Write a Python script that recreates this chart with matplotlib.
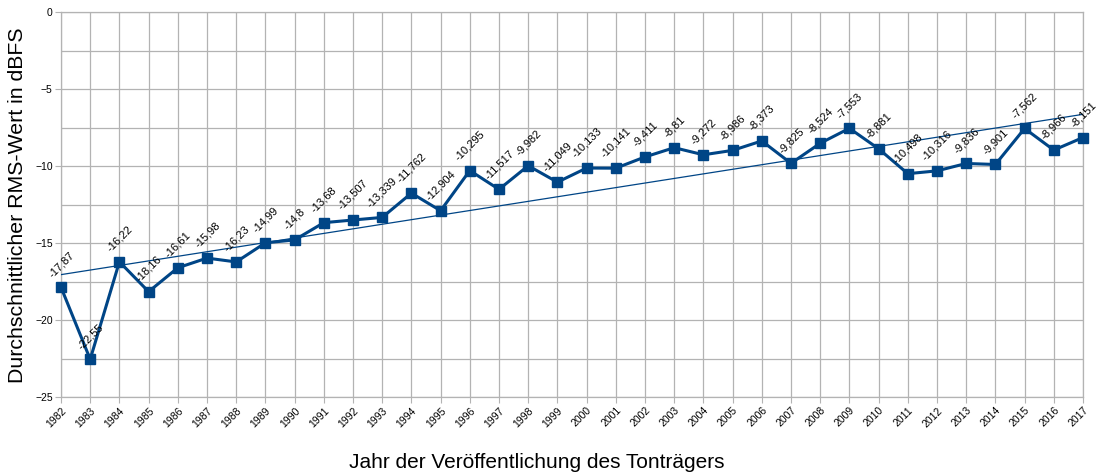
import numpy as np
import matplotlib
matplotlib.use("Agg")
import matplotlib.pyplot as plt
from matplotlib.ticker import MultipleLocator

plt.rcParams['font.family'] = ['Liberation Sans', 'DejaVu Sans']

years = list(range(1982, 2018))
rms = [-17.87, -22.55, -16.22, -18.16, -16.61, -15.98, -16.23, -14.99, -14.8, -13.68,
       -13.507, -13.339, -11.762, -12.904, -10.295, -11.517, -9.982, -11.049, -10.133, -10.141,
       -9.411, -8.81, -9.272, -8.986, -8.373, -9.825, -8.524, -7.553, -8.881, -10.498,
       -10.316, -9.836, -9.901, -7.562, -8.966, -8.151]
labels = ["-17,87", "-22,55", "-16,22", "-18,16", "-16,61", "-15,98", "-16,23", "-14,99", "-14,8", "-13,68",
          "-13,507", "-13,339", "-11,762", "-12,904", "-10,295", "-11,517", "-9,982", "-11,049", "-10,133", "-10,141",
          "-9,411", "-8,81", "-9,272", "-8,986", "-8,373", "-9,825", "-8,524", "-7,553", "-8,881", "-10,498",
          "-10,316", "-9,836", "-9,901", "-7,562", "-8,966", "-8,151"]

color = '#004586'
fig = plt.figure(figsize=(11.01, 4.75), dpi=100)
ax = fig.add_axes([61/1101, 1-397/475, (1083-61)/1101, (397-12)/475])

x = np.array(years, dtype=float)
y = np.array(rms)
k, d = np.polyfit(x, y, 1)
ax.plot([x[0], x[-1]], [k*x[0]+d, k*x[-1]+d], color=color, lw=0.9, zorder=3)
ax.plot(x, y, color=color, lw=2.2, marker='s', markersize=7, zorder=4, clip_on=False)

for xi, yi, lab in zip(x, y, labels):
    ax.annotate(lab, (xi, yi), xytext=(0, 6), textcoords='offset points',
                rotation=45, ha='center', va='bottom', fontsize=8, zorder=5)

ax.set_xlim(1982, 2017)
ax.set_ylim(-25, 0)
ax.set_xticks(years)
ax.set_xticklabels([str(v) for v in years], rotation=45, ha='right', rotation_mode='anchor', fontsize=7.5)
ax.yaxis.set_major_locator(MultipleLocator(5))
ax.yaxis.set_minor_locator(MultipleLocator(2.5))
ax.tick_params(axis='y', which='major', labelsize=7.5, length=4, color='#b3b3b3', pad=2)
ax.tick_params(axis='y', which='minor', length=0)
ax.tick_params(axis='x', length=4, color='#b3b3b3', pad=2)
ax.grid(True, which='major', color='#b3b3b3', lw=0.9, zorder=0)
ax.grid(True, which='minor', axis='y', color='#b3b3b3', lw=0.9, zorder=0)
for s in ax.spines.values():
    s.set_color('#b3b3b3')
    s.set_linewidth(0.9)
ax.set_axisbelow(True)

fig.text(18/1101, 1-205/475, 'Durchschnittlicher RMS-Wert in dBFS', rotation=90, ha='center', va='center', fontsize=15.3)
fig.text(537/1101, 1-462/475, 'Jahr der Veröffentlichung des Tonträgers', ha='center', va='center', fontsize=15)

fig.savefig('out.png', dpi=100)
